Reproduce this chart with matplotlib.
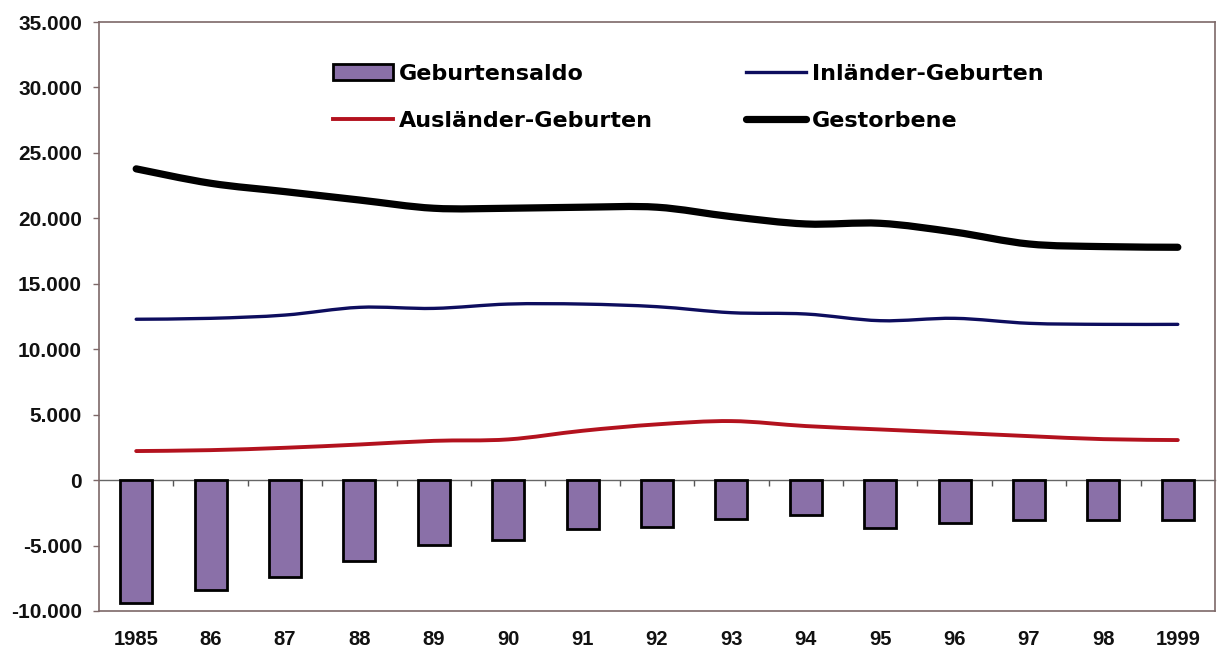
import matplotlib
matplotlib.use("Agg")
import matplotlib.pyplot as plt
import numpy as np
from matplotlib.path import Path
from matplotlib.patches import PathPatch, Patch
from matplotlib.lines import Line2D
from matplotlib.ticker import FuncFormatter, FixedLocator, NullFormatter

years = ["1985", "86", "87", "88", "89", "90", "91", "92", "93", "94", "95", "96", "97", "98", "1999"]
geburtensaldo = [-9380, -8360, -7390, -6170, -4970, -4540, -3750, -3620, -2960, -2680, -3640, -3260, -3080, -3010, -3010]
inlaender = [12290, 12360, 12610, 13200, 13120, 13450, 13450, 13250, 12790, 12690, 12180, 12360, 11980, 11900, 11900]
auslaender = [2220, 2290, 2470, 2720, 3000, 3110, 3770, 4260, 4510, 4130, 3870, 3620, 3360, 3130, 3060]
gestorbene = [23780, 22680, 22040, 21400, 20770, 20770, 20850, 20850, 20130, 19570, 19620, 18950, 18040, 17840, 17790]

plt.rcParams['font.family'] = ['Liberation Sans', 'DejaVu Sans']

fig = plt.figure(figsize=(12.17, 6.53), dpi=100)
ax = fig.add_axes([99/1217, 1-611/653, (1215-99)/1217, (611-22)/653])

x = np.arange(len(years))
spine_col = '#7d6868'
bar_col = '#8a70a8'

ax.bar(x, geburtensaldo, width=0.43, color=bar_col, edgecolor='black', linewidth=2, zorder=2)

def smooth_path(xs, ys):
    # Catmull-Rom style bezier smoothing (like spreadsheet smoothed lines)
    pts = np.column_stack([xs, ys]).astype(float)
    n = len(pts)
    verts = [pts[0]]
    codes = [Path.MOVETO]
    for i in range(n - 1):
        p0 = pts[i - 1] if i > 0 else pts[i]
        p1 = pts[i]
        p2 = pts[i + 1]
        p3 = pts[i + 2] if i + 2 < n else pts[i + 1]
        c1 = p1 + (p2 - p0) / 6.0
        c2 = p2 - (p3 - p1) / 6.0
        verts += [c1, c2, p2]
        codes += [Path.CURVE4] * 3
    return Path(verts, codes)

def draw_line(ys, color, lw):
    pp = PathPatch(smooth_path(x, ys), facecolor='none', edgecolor=color, linewidth=lw,
                   capstyle='round', joinstyle='round', transform=ax.transData, zorder=3)
    ax.add_patch(pp)

red = '#b3121e'
navy = '#0d0d5e'
draw_line(auslaender, red, 2.8)
draw_line(inlaender, navy, 2.4)
draw_line(gestorbene, 'black', 5.2)

ax.set_xlim(-0.5, len(years) - 0.5)
ax.set_ylim(-10000, 35000)
ax.yaxis.set_major_locator(FixedLocator(np.arange(-10000, 35001, 5000)))
ax.yaxis.set_major_formatter(FuncFormatter(lambda v, p: f"{int(v):,}".replace(",", ".")))
ax.set_xticks(x)
ax.set_xticklabels(years)
ax.tick_params(axis='x', length=0, pad=14, labelsize=14.5)
ax.tick_params(axis='y', direction='out', length=4.3, width=1, color=spine_col, pad=8, labelsize=15)
for lab in ax.get_xticklabels() + ax.get_yticklabels():
    lab.set_fontweight('bold')
    lab.set_color('#111111')
for s in ax.spines.values():
    s.set_color(spine_col)
    s.set_linewidth(1.2)

# zero axis with category tick marks
zero_frac = (0 - (-10000)) / 45000
sec = ax.secondary_xaxis(zero_frac)
sec.set_xticks(np.arange(0.5, len(years) - 1, 1.0))
sec.xaxis.set_major_formatter(NullFormatter())
sec.tick_params(axis='x', which='both', direction='out', length=4, width=1, color='#555555',
                labelbottom=False, labeltop=False, bottom=True, top=False)
for s in sec.spines.values():
    s.set_color('#666666')
    s.set_linewidth(1.0)

handles = [
    Patch(facecolor=bar_col, edgecolor='black', linewidth=2),
    Line2D([], [], color=red, lw=2.8),
    Line2D([], [], color=navy, lw=2.4),
    Line2D([], [], color='black', lw=5.2, solid_capstyle='round'),
]
labels = ["Geburtensaldo", "Ausländer-Geburten", "Inländer-Geburten", "Gestorbene"]
leg = ax.legend(handles, labels, ncol=2, loc='upper left',
                bbox_to_anchor=(333/1217, 1-64/653), bbox_transform=fig.transFigure,
                frameon=False, prop={'family': 'DejaVu Sans', 'weight': 'bold', 'size': 16},
                handlelength=2.7, handleheight=0.7, handletextpad=0.26, columnspacing=4.2,
                labelspacing=1.22, borderpad=0, borderaxespad=0)

fig.savefig("out.png", dpi=100, facecolor='white')
